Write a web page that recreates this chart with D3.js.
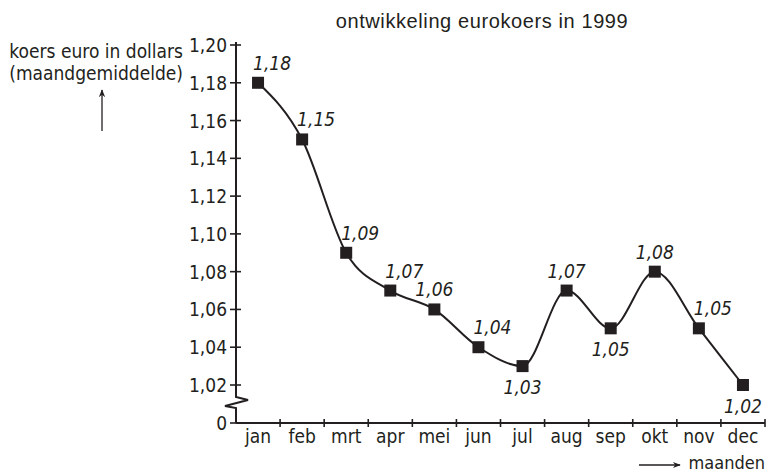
<!DOCTYPE html>
<html>
<head>
<meta charset="utf-8">
<script src="https://cdn.jsdelivr.net/npm/d3@7"></script>
<style>
  body { margin: 0; background: #fff; }
  svg text { font-family: "DejaVu Sans Condensed", "Liberation Sans Narrow", sans-serif; fill: #231f20; }
  svg text.title { font-family: "Liberation Sans", Arial, sans-serif; }
</style>
</head>
<body>
<svg id="chart" width="767" height="474"></svg>
<script>
// data ---------------------------------------------------------------
var months = ["jan", "feb", "mrt", "apr", "mei", "jun", "jul", "aug", "sep", "okt", "nov", "dec"];
var koers = [1.18, 1.15, 1.09, 1.07, 1.06, 1.04, 1.03, 1.07, 1.05, 1.08, 1.05, 1.02];
var yTicks = [1.02, 1.04, 1.06, 1.08, 1.10, 1.12, 1.14, 1.16, 1.18, 1.20];
// where each value label sits relative to its marker
var labelSide = ["ar", "ar", "ar", "ar", "a", "ar", "b", "a", "b", "a", "ar", "b"];

var ink = "#231f20";
var fmt = function(v) { return d3.format(".2f")(v).replace(".", ","); };

var svg = d3.select("#chart"),
    margin = {top: 45, left: 236, bottom: 51, right: 2};
var width = 767, height = 474;
var axisY = height - margin.bottom;   // y of the 0 line

var x = d3.scaleBand()
    .domain(months)
    .range([margin.left, width - margin.right])
    .padding(0);

var y = d3.scaleLinear()
    .domain([1.02, 1.20])
    .range([385, margin.top]);

// title
svg.append("text")
    .attr("class", "title")
    .attr("x", 482).attr("y", 28)
    .attr("text-anchor", "middle")
    .attr("font-size", "20px")
    .attr("letter-spacing", "0.6px")
    .text("ontwikkeling eurokoers in 1999");

// y axis title
var yt = svg.append("text")
    .attr("text-anchor", "end")
    .attr("font-size", "19px");
yt.append("tspan").attr("x", 183).attr("y", 58).text("koers euro in dollars");
yt.append("tspan").attr("x", 183).attr("y", 80).text("(maandgemiddelde)");

svg.append("defs").append("marker")
    .attr("id", "arr")
    .attr("viewBox", "0 0 10 10")
    .attr("refX", 9).attr("refY", 5)
    .attr("markerWidth", 8).attr("markerHeight", 8)
    .attr("markerUnits", "userSpaceOnUse")
    .attr("orient", "auto")
  .append("path")
    .attr("d", "M0,1 L10,5 L0,9 L3,5 Z")
    .attr("fill", ink);

svg.append("line")
    .attr("x1", 102).attr("y1", 131).attr("x2", 102).attr("y2", 90)
    .attr("stroke", ink).attr("stroke-width", 1.3)
    .attr("marker-end", "url(#arr)");

// y axis line with break
var brk = y(1.02) + 12;
svg.append("path")
    .attr("d", d3.line()([
        [margin.left, margin.top - 3], [margin.left, brk],
        [margin.left + 12, brk + 3], [margin.left - 11, brk + 9],
        [margin.left, brk + 11], [margin.left, axisY]
    ]))
    .attr("fill", "none").attr("stroke", ink).attr("stroke-width", 2);

var yAxis = svg.append("g").attr("class", "y-axis");
yAxis.selectAll("line")
    .data(yTicks.concat([0]))
  .enter().append("line")
    .attr("x1", margin.left - 6).attr("x2", margin.left + 5)
    .attr("y1", d => d === 0 ? axisY : y(d))
    .attr("y2", d => d === 0 ? axisY : y(d))
    .attr("stroke", ink).attr("stroke-width", 1.6);
yAxis.selectAll("text")
    .data(yTicks.concat([0]))
  .enter().append("text")
    .attr("x", margin.left - 9)
    .attr("y", d => (d === 0 ? axisY : y(d)) + 7)
    .attr("text-anchor", "end")
    .attr("font-size", "19px")
    .text(d => d === 0 ? "0" : fmt(d));

// x axis
svg.append("line")
    .attr("x1", margin.left).attr("x2", width - margin.right)
    .attr("y1", axisY).attr("y2", axisY)
    .attr("stroke", ink).attr("stroke-width", 2);

var xAxis = svg.append("g").attr("class", "x-axis");
xAxis.selectAll("line")
    .data(months)
  .enter().append("line")
    .attr("x1", d => x(d) + x.bandwidth()).attr("x2", d => x(d) + x.bandwidth())
    .attr("y1", axisY - 4).attr("y2", axisY + 4)
    .attr("stroke", ink).attr("stroke-width", 1.6);
xAxis.selectAll("text")
    .data(months)
  .enter().append("text")
    .attr("x", d => x(d) + x.bandwidth() / 2)
    .attr("y", axisY + 20)
    .attr("text-anchor", "middle")
    .attr("font-size", "19px")
    .text(d => d);

// x axis title
svg.append("line")
    .attr("x1", 639).attr("y1", 465).attr("x2", 680).attr("y2", 465)
    .attr("stroke", ink).attr("stroke-width", 1.3)
    .attr("marker-end", "url(#arr)");
svg.append("text")
    .attr("x", 765).attr("y", 469)
    .attr("text-anchor", "end")
    .attr("font-size", "18px")
    .text("maanden");

// line + markers
var pts = months.map((m, i) => ({m: m, v: koers[i], side: labelSide[i]}));

svg.append("path")
    .datum(pts)
    .attr("d", d3.line()
        .x(d => x(d.m) + x.bandwidth() / 2)
        .y(d => y(d.v))
        .curve(d3.curveMonotoneX))
    .attr("fill", "none").attr("stroke", ink).attr("stroke-width", 2);

svg.selectAll("rect.pt")
    .data(pts)
  .enter().append("rect")
    .attr("class", "pt")
    .attr("x", d => x(d.m) + x.bandwidth() / 2 - 6)
    .attr("y", d => y(d.v) - 6)
    .attr("width", 12).attr("height", 12)
    .attr("fill", ink);

svg.selectAll("text.val")
    .data(pts)
  .enter().append("text")
    .attr("class", "val")
    .attr("x", d => x(d.m) + x.bandwidth() / 2 + (d.side === "ar" ? 14 : 0))
    .attr("y", d => y(d.v) + (d.side === "b" ? 28 : -13))
    .attr("text-anchor", "middle")
    .attr("font-size", "19px")
    .attr("font-style", "italic")
    .text(d => fmt(d.v));
</script>
</body>
</html>
